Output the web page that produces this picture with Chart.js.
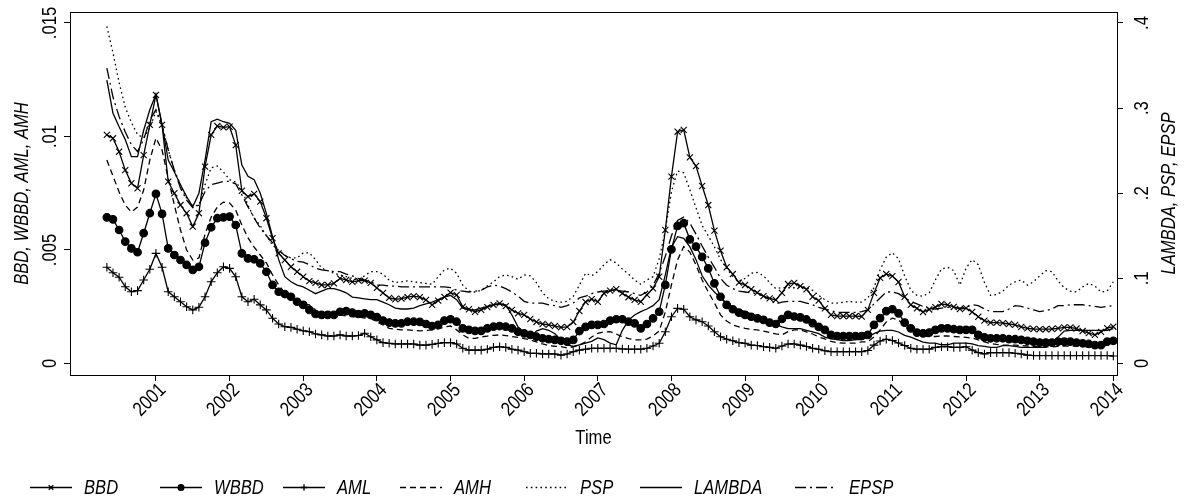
<!DOCTYPE html>
<html>
<head>
<meta charset="utf-8">
<script src="https://cdn.jsdelivr.net/npm/chart.js@4.4.1/dist/chart.umd.min.js"></script>
<style>
  html, body { margin: 0; padding: 0; background: #fff; }
  #wrap { width: 1188px; height: 501px; }
</style>
</head>
<body>
<div id="wrap"><canvas id="chart" width="1188" height="501"></canvas></div>
<script>
// monthly series, 2000m5 .. 2014m1
const startYear = 2000;
const startMonth = 5;
const yearTicks = [2001, 2002, 2003, 2004, 2005, 2006, 2007, 2008, 2009, 2010, 2011, 2012, 2013, 2014];
const leftTicks = [0, 0.005, 0.01, 0.015];
const rightTicks = [0, 0.1, 0.2, 0.3, 0.4];

const bbd = [
  .01007, .00992, .00933, .00852, .00794, .00772, .00918, .01051, .01183, .01051,
  .00801, .0075, .00698, .00662, .00603, .00662, .00867, .01007, .01046, .0104,
  .01043, .00962, .00761, .00735, .00747, .00713, .0064, .00552, .00485, .00456,
  .00426, .00404, .00382, .00363, .00355, .00346, .00346, .00353, .00375, .00368,
  .0036, .00365, .00365, .00355, .00333, .00311, .00289, .00283, .00286, .00292,
  .00297, .00292, .0028, .00258, .00277, .00293, .00312, .00302, .0025, .00239,
  .00228, .00236, .00248, .00258, .00265, .00253, .00236, .00221, .00214, .00196,
  .00183, .00174, .0017, .00165, .00159, .00161, .00183, .00231, .00271, .00283,
  .00272, .00309, .00321, .00327, .00309, .00292, .0028, .00272, .00302, .00331,
  .00382, .00588, .00823, .01021, .01029, .00908, .0087, .00782, .00698, .00585,
  .00497, .00424, .00394, .00356, .00346, .00327, .00312, .00297, .00287, .0028,
  .00311, .0035, .00355, .00341, .00327, .00294, .00277, .00243, .00214, .00209,
  .00209, .00209, .00209, .00207, .00236, .00311, .00377, .00394, .00385, .00359,
  .00294, .00258, .00243, .00227, .00238, .00248, .00262, .00258, .00249, .0024,
  .00244, .00227, .00206, .00189, .0018, .0018, .00178, .00174, .0017, .00161,
  .00155, .00152, .00151, .00151, .00152, .00155, .00159, .00159, .00154, .00143,
  .00134, .00126, .00139, .00156, .00162
];
const wbbd = [
  .00644, .00635, .00588, .00537, .00507, .0049, .00574, .00662, .00747, .00659,
  .00507, .00478, .00456, .00434, .00412, .00426, .00532, .006, .0064, .00644,
  .00647, .0061, .00485, .00463, .00459, .00441, .00404, .00346, .00316, .00306,
  .00294, .00272, .00258, .00236, .00218, .00214, .00214, .00214, .00228, .00231,
  .00224, .00218, .00221, .00214, .00204, .00189, .0018, .00177, .00177, .00184,
  .00184, .00183, .00174, .00165, .0017, .00189, .00195, .00184, .00155, .00148,
  .00144, .00144, .00155, .00162, .00165, .00162, .00155, .0014, .00133, .00126,
  .00118, .00111, .00107, .00104, .001, .00096, .00104, .00143, .00161, .0017,
  .0017, .00174, .00189, .00195, .00195, .00184, .00177, .00155, .00174, .00199,
  .00228, .00346, .00503, .00606, .00618, .00547, .00515, .0047, .00419, .00353,
  .00294, .00258, .00239, .00224, .00214, .00206, .00199, .00192, .0018, .00174,
  .00196, .00214, .00207, .00203, .00194, .00178, .00161, .00148, .00126, .00121,
  .00121, .00121, .00121, .00121, .00126, .0017, .002, .00231, .00239, .00221,
  .0018, .00155, .00136, .00133, .00136, .00148, .00155, .00155, .00151, .00148,
  .00148, .00148, .00126, .00115, .00111, .00111, .00111, .00107, .00107, .00104,
  .001, .00096, .00092, .00092, .00092, .00096, .00096, .00096, .00092, .00089,
  .00086, .00081, .00081, .00096, .001
];
const aml = [
  .00424, .004, .0038, .00338, .00316, .00321, .00368, .00415, .00485, .00424,
  .00316, .00294, .00272, .0025, .00236, .00248, .00294, .0036, .004, .00426,
  .00419, .00382, .00294, .00272, .00283, .00258, .00236, .00199, .00174, .00162,
  .00159, .00151, .00144, .0014, .0013, .00126, .00121, .00121, .00126, .00121,
  .00121, .00123, .00133, .00118, .00104, .00092, .00089, .00086, .00086, .00086,
  .00086, .00081, .00081, .00084, .00089, .00092, .00092, .00086, .00067, .00059,
  .00059, .00059, .00063, .00071, .00074, .00071, .00063, .00059, .00052, .00045,
  .00045, .00042, .00042, .00042, .00037, .00042, .00052, .00059, .00063, .00067,
  .00067, .00067, .00067, .00067, .00064, .00063, .00063, .00063, .00067, .00077,
  .00089, .0014, .00206, .00243, .00239, .00206, .00192, .00184, .00165, .0014,
  .00118, .00107, .001, .00092, .00089, .00081, .00079, .00074, .00071, .00067,
  .00077, .00086, .00086, .00081, .00075, .00067, .00063, .00056, .00052, .00052,
  .00052, .00052, .00052, .00052, .00057, .00081, .00099, .00107, .00101, .0009,
  .00079, .00067, .00063, .00063, .00063, .00071, .00074, .00074, .00071, .00071,
  .00074, .00059, .00048, .00042, .00048, .00048, .00048, .00048, .00045, .00042,
  .00037, .00035, .00035, .00035, .00035, .00035, .00035, .00035, .00035, .00035,
  .00035, .00035, .00035, .00035, .00033
];
const amh = [
  .00896, .00826, .00755, .00698, .00667, .00689, .00764, .00896, .00993, .0094,
  .00817, .00698, .00588, .005, .00456, .00465, .0057, .00645, .00689, .00711,
  .00707, .00676, .0061, .00553, .00513, .00478, .00443, .0039, .00346, .00311,
  .00289, .00271, .00262, .00258, .00236, .00206, .00206, .00209, .00214, .00209,
  .00206, .00205, .002, .00199, .00183, .0017, .00155, .00151, .00148, .00148,
  .00146, .00144, .00146, .00148, .00152, .00161, .00165, .00148, .00126, .00111,
  .00111, .00117, .00121, .00124, .00126, .00123, .00119, .00115, .0011, .00104,
  .00095, .00086, .00079, .00076, .00074, .00068, .00073, .00081, .00096, .00117,
  .00133, .00139, .0014, .0013, .00118, .0011, .00104, .00104, .00107, .00121,
  .00143, .00227, .00346, .00456, .00515, .00491, .00434, .00368, .00315, .00267,
  .00214, .00187, .0017, .00161, .00155, .0015, .00148, .00143, .00137, .0013,
  .00126, .0014, .00148, .00148, .00139, .0013, .00117, .00108, .00097, .00092,
  .0009, .0009, .0009, .00095, .00096, .00117, .00148, .00183, .002, .00192,
  .00165, .00139, .00126, .00121, .00119, .00119, .00121, .00121, .00119, .00117,
  .00115, .00112, .00104, .00095, .00088, .00084, .00081, .00081, .00081, .00079,
  .00077, .00075, .00073, .00073, .00073, .00075, .00077, .00077, .00077, .00075,
  .00073, .0007, .00073, .00081, .00086
];
const psp = [
  .396, .365, .33, .301, .283, .269, .265, .277, .296, .28,
  .251, .227, .21, .194, .185, .186, .21, .23, .232, .225,
  .216, .213, .204, .186, .171, .162, .15, .139, .133, .127,
  .124, .124, .13, .13, .122, .112, .109, .106, .104, .102,
  .1, .098, .103, .108, .108, .105, .098, .095, .096, .097,
  .096, .095, .094, .093, .102, .11, .112, .106, .092, .085,
  .084, .086, .091, .096, .102, .104, .102, .099, .104, .103,
  .095, .083, .076, .073, .072, .073, .079, .092, .106, .103,
  .108, .116, .122, .118, .111, .105, .098, .093, .098, .102,
  .123, .156, .202, .226, .224, .204, .183, .162, .15, .137,
  .122, .112, .102, .097, .1, .106, .107, .103, .095, .088,
  .089, .089, .089, .09, .089, .086, .08, .075, .071, .071,
  .072, .073, .072, .072, .077, .089, .11, .125, .13, .123,
  .103, .086, .08, .079, .083, .098, .111, .113, .109, .092,
  .112, .122, .116, .095, .08, .081, .085, .092, .096, .098,
  .092, .096, .103, .109, .108, .097, .089, .085, .084, .09,
  .094, .091, .084, .085, .096
];
const lambda = [
  .333, .294, .278, .263, .243, .243, .274, .298, .316, .28,
  .239, .225, .21, .196, .184, .2, .239, .284, .287, .284,
  .282, .274, .233, .22, .216, .2, .176, .149, .122, .102,
  .096, .092, .09, .086, .082, .085, .088, .088, .086, .083,
  .078, .077, .076, .075, .075, .072, .069, .065, .064, .064,
  .065, .068, .07, .072, .075, .078, .08, .075, .065, .063,
  .063, .065, .067, .069, .07, .069, .057, .043, .036, .031,
  .038, .041, .039, .035, .028, .022, .02, .022, .024, .026,
  .03, .028, .024, .022, .039, .051, .057, .061, .064, .068,
  .075, .104, .137, .149, .147, .137, .122, .103, .092, .084,
  .077, .071, .066, .063, .061, .058, .055, .053, .05, .046,
  .043, .041, .041, .041, .039, .037, .035, .031, .029, .028,
  .027, .027, .028, .028, .031, .035, .038, .039, .039, .037,
  .033, .031, .028, .025, .024, .024, .022, .022, .024, .024,
  .024, .023, .021, .02, .019, .019, .021, .021, .02, .019,
  .019, .019, .019, .019, .025, .031, .038, .039, .039, .039,
  .039, .039, .039, .039, .041
];
const epsp = [
  .347, .313, .29, .272, .257, .249, .263, .286, .298, .28,
  .251, .227, .206, .192, .183, .186, .202, .21, .212, .214,
  .214, .211, .198, .184, .171, .159, .15, .142, .133, .127,
  .123, .12, .119, .116, .112, .11, .109, .108, .108, .105,
  .103, .1, .098, .096, .092, .092, .091, .091, .09, .09,
  .09, .09, .09, .09, .09, .09, .089, .086, .085, .084,
  .085, .086, .09, .092, .091, .088, .084, .079, .073, .071,
  .071, .071, .069, .068, .066, .068, .071, .077, .079, .082,
  .084, .085, .086, .086, .085, .084, .082, .08, .084, .092,
  .106, .126, .15, .168, .172, .165, .152, .138, .125, .113,
  .1, .092, .088, .085, .084, .083, .082, .079, .075, .07,
  .072, .073, .073, .073, .071, .069, .066, .064, .062, .06,
  .06, .06, .06, .061, .063, .07, .077, .084, .084, .082,
  .077, .073, .07, .067, .065, .064, .065, .066, .066, .065,
  .066, .069, .068, .064, .061, .061, .061, .064, .068, .067,
  .065, .063, .061, .062, .064, .068, .068, .069, .069, .069,
  .068, .067, .066, .067, .068
];

// time axis in decimal years, Stata %tm style (tick 2001 = 2001m1)
const months = bbd.map((_, i) => startYear + (startMonth - 1 + i) / 12);
const pts = arr => arr.map((v, i) => ({ x: months[i], y: v }));

const FONT = '"Liberation Sans", Arial, Helvetica, sans-serif';
Chart.defaults.font.family = FONT;
Chart.defaults.color = '#000';

const series = [
  { label: 'BBD', data: bbd, axis: 'yL', dash: [], point: 'crossRot', r: 4.3 },
  { label: 'WBBD', data: wbbd, axis: 'yL', dash: [], point: 'circle', r: 3.8 },
  { label: 'AML', data: aml, axis: 'yL', dash: [], point: 'cross', r: 4.3 },
  { label: 'AMH', data: amh, axis: 'yL', dash: [6, 4], point: false, r: 0 },
  { label: 'PSP', data: psp, axis: 'yR', dash: [1.6, 3.2], point: false, r: 0 },
  { label: 'LAMBDA', data: lambda, axis: 'yR', dash: [], point: false, r: 0 },
  { label: 'EPSP', data: epsp, axis: 'yR', dash: [11, 4, 2, 4], point: false, r: 0 }
];

const trimZero = v => v === 0 ? '0' : String(v).replace(/^0\./, '.');

// Stata text is a narrow Helvetica; squeeze Liberation Sans to get it
function stataText(ctx, text, x, y, o) {
  ctx.save();
  ctx.translate(x, y);
  ctx.rotate(o.rot || 0);
  ctx.scale(0.83, 1);
  ctx.font = (o.italic ? 'italic ' : '') + o.size + 'px ' + FONT;
  ctx.textAlign = o.align || 'center';
  ctx.textBaseline = o.base || 'alphabetic';
  ctx.fillStyle = '#000';
  ctx.fillText(text, 0, 0);
  ctx.restore();
}

// box, tick labels, axis titles and the bottom legend
const stataFrame = {
  id: 'stataFrame',
  afterDraw(chart) {
    const { ctx, chartArea: a, scales } = chart;
    ctx.save();
    ctx.strokeStyle = '#000';
    ctx.lineWidth = 1;
    ctx.strokeRect(Math.round(a.left) + 0.5, Math.round(a.top) + 0.5,
      Math.round(a.right - a.left), Math.round(a.bottom - a.top));
    ctx.restore();

    const midY = (a.top + a.bottom) / 2;
    const up = -Math.PI / 2;

    scales.x.ticks.forEach(t => {
      stataText(ctx, String(t.value), scales.x.getPixelForValue(t.value) + 7, a.bottom + 12,
        { size: 20, rot: -Math.PI / 4, align: 'right', base: 'middle' });
    });
    scales.yL.ticks.forEach(t => {
      stataText(ctx, trimZero(t.value), 56, scales.yL.getPixelForValue(t.value), { size: 20, rot: up });
    });
    scales.yR.ticks.forEach(t => {
      stataText(ctx, trimZero(t.value), 1148, scales.yR.getPixelForValue(t.value), { size: 20, rot: up });
    });

    stataText(ctx, 'BBD, WBBD, AML, AMH', 28, midY, { size: 20, rot: up, italic: true });
    stataText(ctx, 'LAMBDA, PSP, EPSP', 1175, midY, { size: 20, rot: up, italic: true });
    stataText(ctx, 'Time', (a.left + a.right) / 2, 444, { size: 20 });

    // legend
    const legendX = [30, 160, 283, 400, 526, 640, 795];
    const ly = 487;
    ctx.save();
    ctx.strokeStyle = '#000';
    ctx.fillStyle = '#000';
    ctx.lineWidth = 1.3;
    series.forEach((s, k) => {
      const x0 = legendX[k];
      ctx.setLineDash(s.dash);
      ctx.beginPath();
      ctx.moveTo(x0, ly + 0.5);
      ctx.lineTo(x0 + 42, ly + 0.5);
      ctx.stroke();
      ctx.setLineDash([]);
      if (s.point) {
        Chart.helpers.drawPoint(ctx, { pointStyle: s.point, radius: s.r * 0.75, borderWidth: 1 }, x0 + 21, ly + 0.5);
        if (s.point === 'circle') ctx.fill();
      }
      stataText(ctx, s.label, x0 + 54, ly + 7, { size: 20, italic: true, align: 'left' });
    });
    ctx.restore();
  }
};

const noPad = scale => { scale.paddingTop = 0; scale.paddingBottom = 0; scale.paddingLeft = 0; scale.paddingRight = 0; };

new Chart(document.getElementById('chart'), {
  type: 'line',
  data: {
    datasets: series.map(s => ({
      label: s.label,
      data: pts(s.data),
      yAxisID: s.axis,
      borderColor: '#000',
      backgroundColor: '#000',
      borderWidth: 1.3,
      borderDash: s.dash,
      pointStyle: s.point || 'circle',
      pointRadius: s.r,
      pointBorderWidth: 1.1,
      pointBorderColor: '#000',
      pointBackgroundColor: '#000',
      pointHoverRadius: s.r,
      tension: 0,
      fill: false
    }))
  },
  plugins: [stataFrame],
  options: {
    responsive: false,
    animation: false,
    devicePixelRatio: 1,
    layout: { padding: { top: 12, bottom: 48, left: 0, right: 0 } },
    plugins: { legend: { display: false }, tooltip: { enabled: false } },
    scales: {
      x: {
        type: 'linear',
        min: 1999.833,
        max: 2014.05,
        afterBuildTicks: scale => { scale.ticks = yearTicks.map(v => ({ value: v })); },
        afterFit: scale => { scale.height = 78; noPad(scale); },
        ticks: { display: false },
        grid: { drawOnChartArea: false, drawTicks: true, tickLength: 6, color: '#000' },
        border: { display: true, color: '#000' }
      },
      yL: {
        type: 'linear',
        position: 'left',
        min: -0.000507,
        max: 0.015484,
        afterBuildTicks: scale => { scale.ticks = leftTicks.map(v => ({ value: v })); },
        afterFit: scale => { scale.width = 70; noPad(scale); },
        ticks: { display: false },
        grid: { drawOnChartArea: false, drawTicks: true, tickLength: 6, color: '#000' },
        border: { display: true, color: '#000' }
      },
      yR: {
        type: 'linear',
        position: 'right',
        min: -0.01352,
        max: 0.41291,
        afterBuildTicks: scale => { scale.ticks = rightTicks.map(v => ({ value: v })); },
        afterFit: scale => { scale.width = 71; noPad(scale); },
        ticks: { display: false },
        grid: { drawOnChartArea: false, drawTicks: true, tickLength: 6, color: '#000' },
        border: { display: true, color: '#000' }
      }
    }
  }
});
</script>
</body>
</html>
